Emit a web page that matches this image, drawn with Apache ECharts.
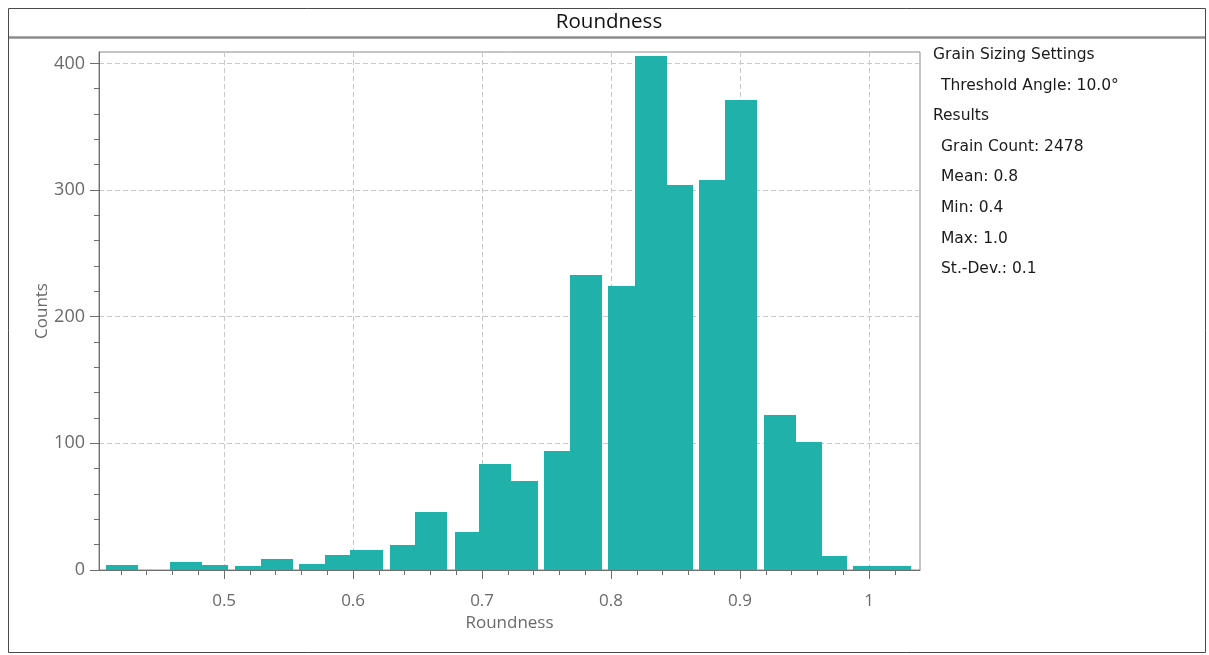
<!DOCTYPE html>
<html>
<head>
<meta charset="utf-8">
<title>Roundness</title>
<script src="https://cdn.jsdelivr.net/npm/echarts@6/dist/echarts.min.js"></script>
<style>
  html, body { margin: 0; padding: 0; background: #ffffff; }
  #chart { width: 1209px; height: 655px; }
</style>
</head>
<body>
<div id="chart"></div>
<script>
// Histogram bins: left edge, right edge, grain count
const binStart = [0.4083, 0.4581, 0.4832, 0.5085, 0.5285, 0.5581, 0.5785, 0.5977, 0.6287, 0.6478,
                  0.6788, 0.6979, 0.7225, 0.7483, 0.7682, 0.7979, 0.8186, 0.8432, 0.8684, 0.8884,
                  0.9186, 0.9432, 0.9638, 0.9878, 1.0124];
const binEnd   = [0.4331, 0.4832, 0.5033, 0.5285, 0.5533, 0.5785, 0.5977, 0.6235, 0.6478, 0.6726,
                  0.6979, 0.7225, 0.7432, 0.7682, 0.7933, 0.8186, 0.8432, 0.8633, 0.8884, 0.9134,
                  0.9432, 0.9638, 0.9827, 1.0124, 1.0326];
const counts   = [4, 6, 4, 3, 9, 5, 12, 16, 20, 46,
                  30, 84, 70, 94, 233, 224, 406, 304, 308, 371,
                  122, 101, 11, 3, 3];

// Axis ticks
const xMajorTicks = [0.5, 0.6, 0.7, 0.8, 0.9, 1.0];
const xMinorTicks = [0.42, 0.44, 0.46, 0.48, 0.52, 0.54, 0.56, 0.58, 0.62, 0.64, 0.66, 0.68,
                     0.72, 0.74, 0.76, 0.78, 0.82, 0.84, 0.86, 0.88, 0.92, 0.94, 0.96, 0.98, 1.02];
const yMajorTicks = [0, 100, 200, 300, 400];
const yMinorTicks = [20, 40, 60, 80, 120, 140, 160, 180, 220, 240, 260, 280, 320, 340, 360, 380];

// Statistics panel
const panelLines = [
  { text: 'Grain Sizing Settings', indent: false },
  { text: 'Threshold Angle: 10.0°', indent: true },
  { text: 'Results', indent: false },
  { text: 'Grain Count: 2478', indent: true },
  { text: 'Mean: 0.8', indent: true },
  { text: 'Min: 0.4', indent: true },
  { text: 'Max: 1.0', indent: true },
  { text: 'St.-Dev.: 0.1', indent: true }
];

const X_MIN = 0.403, X_MAX = 1.0395;
const Y_MIN = 0, Y_MAX = 409;

const labelFont = '"Open Sans", "Noto Sans", sans-serif';
const axisGray = '#6a6a6a';
const gridGray = '#c8c8c8';

const chart = echarts.init(document.getElementById('chart'), null, { renderer: 'canvas' });

const panelGraphics = panelLines.map((ln, i) => ({
  type: 'text',
  x: ln.indent ? 941 : 933,
  y: 55 + i * 30.6,
  style: {
    text: ln.text,
    fill: '#1a1a1a',
    font: '15.5px "DejaVu Sans", Verdana, sans-serif',
    verticalAlign: 'middle'
  },
  silent: true
}));

const option = {
  animation: false,
  backgroundColor: '#ffffff',
  grid: {
    left: 99, right: 289, top: 52, bottom: 85,
    containLabel: false,
    outerBoundsMode: 'none',
    show: true,
    borderColor: '#8a8a8a',
    borderWidth: 1,
    backgroundColor: 'transparent'
  },
  xAxis: [
    {
      type: 'value',
      min: X_MIN, max: X_MAX,
      name: 'Roundness',
      nameLocation: 'middle',
      nameGap: 45,
      nameMoveOverlap: false,
      nameTextStyle: { fontFamily: labelFont, fontSize: 17, color: axisGray },
      axisLine: { show: true, lineStyle: { color: '#6e6e6e', width: 1 } },
      axisTick: { show: true, length: 9, customValues: xMajorTicks, lineStyle: { color: '#6e6e6e' } },
      axisLabel: {
        show: true, customValues: xMajorTicks, margin: 23,
        fontFamily: labelFont, fontSize: 17, color: axisGray,
        formatter: v => (Math.abs(v - 1) < 1e-9 ? '1' : v.toFixed(1))
      },
      splitLine: { show: true, lineStyle: { color: gridGray, type: [5, 3] } }
    },
    {
      type: 'value',
      min: X_MIN, max: X_MAX,
      position: 'bottom',
      axisLine: { show: false },
      axisTick: { show: true, length: 5, customValues: xMinorTicks, lineStyle: { color: '#6e6e6e' } },
      axisLabel: { show: false },
      splitLine: { show: false }
    }
  ],
  yAxis: [
    {
      type: 'value',
      min: Y_MIN, max: Y_MAX,
      name: 'Counts',
      nameLocation: 'middle',
      nameGap: 48,
      nameMoveOverlap: false,
      nameTextStyle: { fontFamily: labelFont, fontSize: 17, color: axisGray },
      axisLine: { show: true, lineStyle: { color: '#6e6e6e', width: 1 } },
      axisTick: { show: true, length: 9, customValues: yMajorTicks, lineStyle: { color: '#6e6e6e' } },
      axisLabel: {
        show: true, customValues: yMajorTicks, margin: 14,
        fontFamily: labelFont, fontSize: 18, color: axisGray
      },
      splitLine: { show: true, lineStyle: { color: gridGray, type: [5, 3] } }
    },
    {
      type: 'value',
      min: Y_MIN, max: Y_MAX,
      position: 'left',
      axisLine: { show: false },
      axisTick: { show: true, length: 5, customValues: yMinorTicks, lineStyle: { color: '#6e6e6e' } },
      axisLabel: { show: false },
      splitLine: { show: false }
    }
  ],
  series: [
    {
      type: 'custom',
      xAxisIndex: 0,
      yAxisIndex: 0,
      encode: { x: [0, 1], y: 2 },
      data: binStart.map((s, i) => [s, binEnd[i], counts[i]]),
      renderItem: (params, api) => {
        const topLeft = api.coord([api.value(0), api.value(2)]);
        const bottomRight = api.coord([api.value(1), 0]);
        // snap to whole pixels so touching bins do not show seams
        const x0 = Math.round(topLeft[0]);
        const x1 = Math.round(bottomRight[0]);
        const y0 = Math.round(topLeft[1]);
        const y1 = Math.round(bottomRight[1]);
        return {
          type: 'rect',
          shape: { x: x0, y: y0, width: x1 - x0, height: y1 - y0 },
          style: { fill: '#20B2AA' }
        };
      }
    }
  ],
  graphic: [
    // outer frame
    {
      type: 'rect',
      shape: { x: 8.5, y: 8.5, width: 1197, height: 644 },
      style: { fill: 'none', stroke: '#4a4a4a', lineWidth: 1 },
      silent: true
    },
    // chart title
    {
      type: 'text',
      x: 609,
      y: 22,
      style: {
        text: 'Roundness',
        font: '20.5px "Open Sans", "Noto Sans", sans-serif',
        fill: '#111111',
        align: 'center',
        verticalAlign: 'middle'
      },
      silent: true
    },
    // separator under the title
    {
      type: 'line',
      shape: { x1: 9, y1: 37.5, x2: 1205, y2: 37.5 },
      style: { stroke: '#8c8c8c', lineWidth: 2.5 },
      silent: true
    },
    ...panelGraphics
  ]
};

chart.setOption(option);
</script>
</body>
</html>
